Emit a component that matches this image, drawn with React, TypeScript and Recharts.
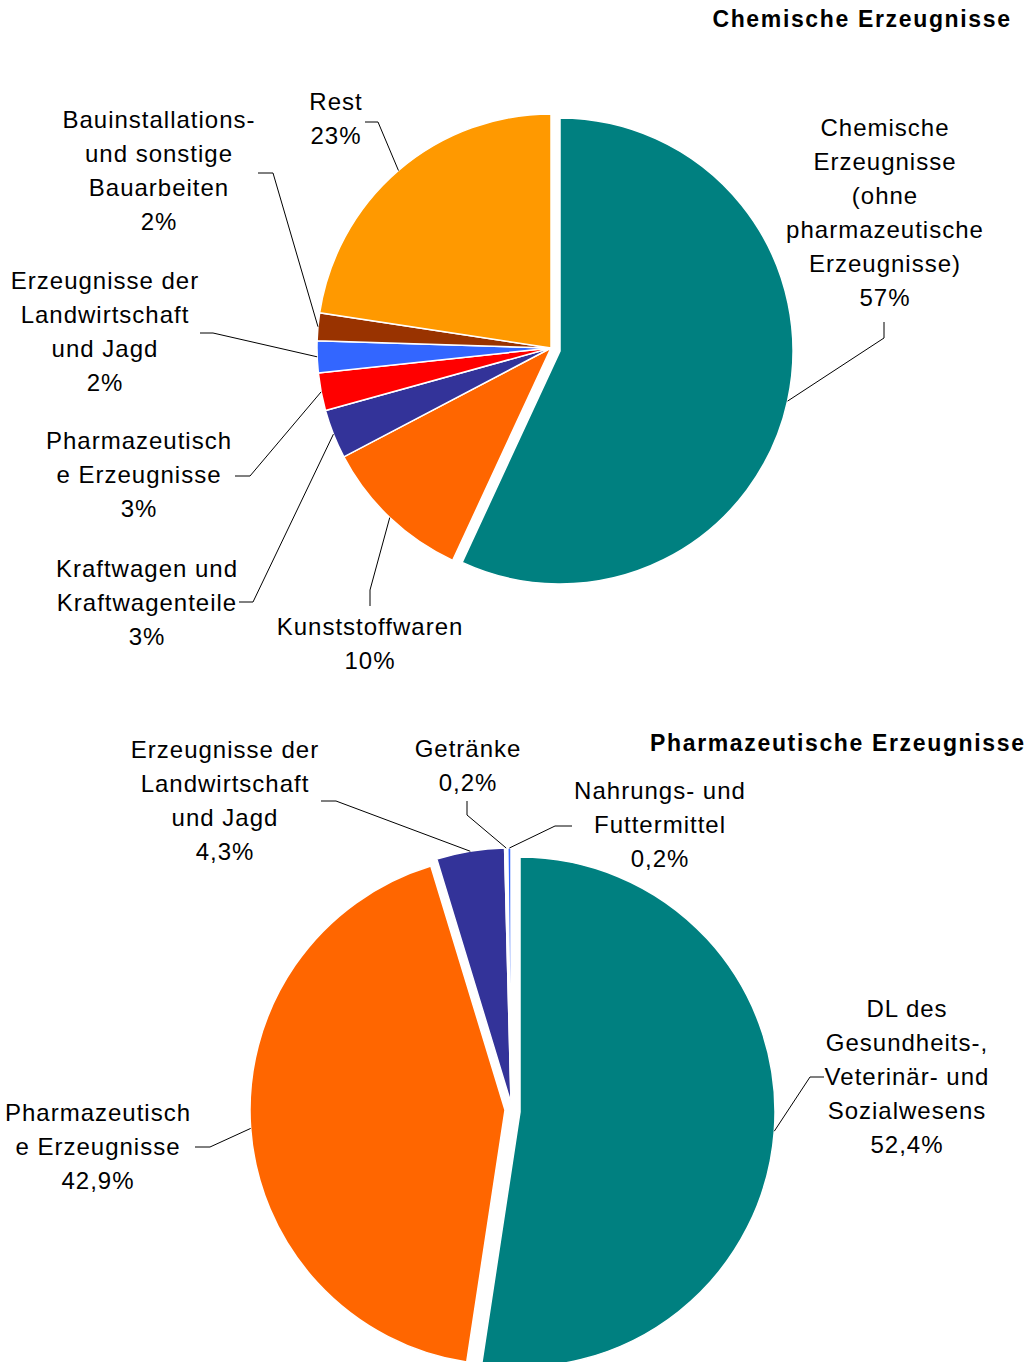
import { PieChart, Pie, Cell } from "recharts";

// Chemische Erzeugnisse (top pie), clockwise from 12 o'clock; shares in %
const chemCategories = [
  "Chemische Erzeugnisse (ohne pharmazeutische Erzeugnisse)",
  "Kunststoffwaren",
  "Kraftwagen und Kraftwagenteile",
  "Pharmazeutische Erzeugnisse",
  "Erzeugnisse der Landwirtschaft und Jagd",
  "Bauinstallations- und sonstige Bauarbeiten",
  "Rest",
];
const chemValues = [56.9, 10.4, 3.4, 2.6, 2.2, 1.9, 22.6];
const chemColors = ["#008080", "#FF6600", "#333399", "#FF0000", "#3366FF", "#993300", "#FF9900"];

// Pharmazeutische Erzeugnisse (bottom pie)
const pharmaCategories = [
  "DL des Gesundheits-, Veterinär- und Sozialwesens",
  "Pharmazeutische Erzeugnisse",
  "Erzeugnisse der Landwirtschaft und Jagd",
  "Getränke",
  "Nahrungs- und Futtermittel",
];
const pharmaValues = [52.4, 42.9, 4.3, 0.2, 0.2];
const pharmaColors = ["#008080", "#FF6600", "#333399", "#FFFFFF", "#3366FF"];

const chemData = chemCategories.map((name, i) => ({ name, value: chemValues[i] }));
const pharmaData = pharmaCategories.map((name, i) => ({ name, value: pharmaValues[i] }));

const FONT = "'Liberation Sans', Arial, sans-serif";
const LINE_H = 34;
const RAD = Math.PI / 180;

type LabelPos = {
  lines: string[];
  x: number;
  y: number;
  elbow: [number, number];
  end: [number, number];
};

// label placement (wrapped like the original)
const chemLabels: LabelPos[] = [
  { lines: ["Chemische", "Erzeugnisse", "(ohne", "pharmazeutische", "Erzeugnisse)"], x: 885, y: 128, elbow: [884, 338], end: [884, 322] },
  { lines: ["Kunststoffwaren"], x: 370, y: 627, elbow: [370, 590], end: [370, 606] },
  { lines: ["Kraftwagen und", "Kraftwagenteile"], x: 147, y: 569, elbow: [253, 602], end: [239, 602] },
  { lines: ["Pharmazeutisch", "e Erzeugnisse"], x: 139, y: 441, elbow: [250, 476], end: [235, 476] },
  { lines: ["Erzeugnisse der", "Landwirtschaft", "und Jagd"], x: 105, y: 281, elbow: [213, 333], end: [200, 333] },
  { lines: ["Bauinstallations-", "und sonstige", "Bauarbeiten"], x: 159, y: 120, elbow: [273, 173], end: [258, 173] },
  { lines: ["Rest"], x: 336, y: 102, elbow: [378, 122], end: [365, 122] },
];

const pharmaLabels: LabelPos[] = [
  { lines: ["DL des", "Gesundheits-,", "Veterinär- und", "Sozialwesens"], x: 907, y: 1009, elbow: [810, 1077], end: [824, 1077] },
  { lines: ["Pharmazeutisch", "e Erzeugnisse"], x: 98, y: 1113, elbow: [210, 1147], end: [195, 1147] },
  { lines: ["Erzeugnisse der", "Landwirtschaft", "und Jagd"], x: 225, y: 750, elbow: [336, 801], end: [321, 801] },
  { lines: ["Getränke"], x: 468, y: 749, elbow: [467, 815], end: [467, 801] },
  { lines: ["Nahrungs- und", "Futtermittel"], x: 660, y: 791, elbow: [555, 826], end: [572, 826] },
];

const fmtInt = (v: number) => `${Math.round(v)}%`;
const fmtDec = (v: number) => `${v.toFixed(1).replace(".", ",")}%`;

function makeLabel(layout: LabelPos[], fmt: (v: number) => string, show: number[]) {
  return (props: any) => {
    const { cx, cy, midAngle, outerRadius, index, value } = props;
    if (!show.includes(index)) return null;
    const L = layout[index];
    const sx = cx + outerRadius * Math.cos(-midAngle * RAD);
    const sy = cy + outerRadius * Math.sin(-midAngle * RAD);
    const rows = [...L.lines, fmt(value)];
    return (
      <g key={`lbl-${index}`}>
        <polyline
          points={`${sx},${sy} ${L.elbow[0]},${L.elbow[1]} ${L.end[0]},${L.end[1]}`}
          fill="none"
          stroke="#000"
          strokeWidth={1}
        />
        <text
          textAnchor="middle"
          fontFamily={FONT}
          fontSize={24}
          fill="#000"
          style={{ letterSpacing: "1px" }}
        >
          {rows.map((t, i) => (
            <tspan key={i} x={L.x} y={L.y + i * LINE_H + 8}>
              {t}
            </tspan>
          ))}
        </text>
      </g>
    );
  };
}

// slices drawn by each Pie (exploded slices get their own centre)
const chemGroups = [
  { cx: 551, cy: 348, r: 234, show: [1, 2, 3, 4, 5, 6] },
  { cx: 560, cy: 351, r: 233, show: [0] },
];
const pharmaGroups = [
  { cx: 511, cy: 1103, r: 255, show: [2, 3, 4] },
  { cx: 505, cy: 1110, r: 255, show: [1] },
  { cx: 520, cy: 1112, r: 255, show: [0] },
];

const titleStyle = {
  position: "absolute" as const,
  fontFamily: FONT,
  fontWeight: "bold" as const,
  fontSize: 23,
  letterSpacing: "1.65px",
  lineHeight: 1,
  whiteSpace: "nowrap" as const,
  color: "#000",
};

export default function App() {
  return (
    <div
      style={{
        position: "absolute",
        left: 0,
        top: 0,
        width: 1029,
        height: 1362,
        overflow: "hidden",
        background: "#fff",
      }}
    >
      <PieChart width={1029} height={1362} margin={{ top: 0, right: 0, bottom: 0, left: 0 }}>
        {chemGroups.map((g, gi) => (
          <Pie
            key={`chem-${gi}`}
            data={chemData}
            dataKey="value"
            nameKey="name"
            cx={g.cx}
            cy={g.cy}
            outerRadius={g.r}
            startAngle={90}
            endAngle={-270}
            isAnimationActive={false}
            labelLine={false}
            label={makeLabel(chemLabels, fmtInt, g.show)}
          >
            {chemData.map((_, i) =>
              g.show.includes(i) ? (
                <Cell key={i} fill={chemColors[i]} stroke="#fff" strokeWidth={1.5} />
              ) : (
                <Cell key={i} fill="none" stroke="none" />
              )
            )}
          </Pie>
        ))}
        {pharmaGroups.map((g, gi) => (
          <Pie
            key={`pharma-${gi}`}
            data={pharmaData}
            dataKey="value"
            nameKey="name"
            cx={g.cx}
            cy={g.cy}
            outerRadius={g.r}
            startAngle={90}
            endAngle={-270}
            isAnimationActive={false}
            labelLine={false}
            label={makeLabel(pharmaLabels, fmtDec, g.show)}
          >
            {pharmaData.map((_, i) =>
              g.show.includes(i) ? (
                <Cell key={i} fill={pharmaColors[i]} stroke="#fff" strokeWidth={1.5} />
              ) : (
                <Cell key={i} fill="none" stroke="none" />
              )
            )}
          </Pie>
        ))}
      </PieChart>
      <div style={{ ...titleStyle, right: 1029 - 1010 - 1.65, top: 8 }}>Chemische Erzeugnisse</div>
      <div style={{ ...titleStyle, right: 1029 - 1024 - 1.65, top: 732 }}>Pharmazeutische Erzeugnisse</div>
    </div>
  );
}
